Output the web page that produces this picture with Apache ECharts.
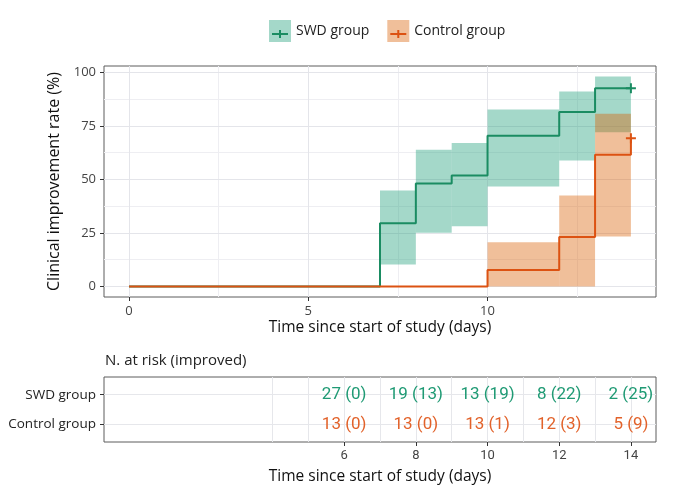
<!DOCTYPE html>
<html>
<head>
<meta charset="utf-8">
<script src="https://cdn.jsdelivr.net/npm/echarts@6/dist/echarts.min.js"></script>
<style>
  html, body { margin: 0; padding: 0; background: #fff; }
  #chart { width: 677px; height: 502px; }
</style>
</head>
<body>
<div id="chart"></div>
<script>
// 累积改善率曲线（阶梯）以及置信区间
var swdTime = [0, 7, 8, 9, 10, 12, 13, 14];
var swdRate = [0, 29.6, 48.1, 51.9, 70.4, 81.5, 92.6, 92.6];
var swdLower = [0, 10.3, 25.1, 28.2, 46.7, 58.9, 72.1, 72.1];
var swdUpper = [0, 44.9, 63.9, 67.0, 82.7, 91.1, 98.1, 98.1];

var ctrlTime = [0, 10, 12, 13, 14];
var ctrlRate = [0, 7.7, 23.1, 61.5, 69.2];
var ctrlLower = [0, 0, 0, 23.4, 23.4];
var ctrlUpper = [0, 20.7, 42.5, 80.7, 80.7];

// 风险表
var riskTime = [6, 8, 10, 12, 14];
var swdAtRisk = [27, 19, 13, 8, 2];
var swdImproved = [0, 13, 19, 22, 25];
var ctrlAtRisk = [13, 13, 13, 12, 5];
var ctrlImproved = [0, 0, 1, 3, 9];
var riskGroups = ["Control group", "SWD group"]; // 行号 1, 2

// 刻度
var xTicks = [0, 5, 10];
var xMinor = [2.5, 7.5, 12.5];
var yTicks = [0, 25, 50, 75, 100];
var yMinor = [12.5, 37.5, 62.5, 87.5];
var riskTicks = [6, 8, 10, 12, 14];
var riskGridX = [4, 5, 6, 7, 8, 9, 10, 11, 12, 13, 14];

var names = ["SWD group", "Control group"];
var lineColor = ["#1a8c62", "#dc5212"];
var bandColor = ["rgba(27,158,119,0.4)", "rgba(217,95,2,0.4)"];
var textColor = ["#1f9a74", "#e2622a"];
var font = "'Open Sans', 'Noto Sans', sans-serif";
var plusIcon = "path://M0,3L16,3L16,5L0,5Z M7,0L9,0L9,8L7,8Z";

function steps(t, v) {
  return t.map(function (x, i) {
    var item = { value: [x, v[i]] };
    if (i === t.length - 1) {
      item.symbol = "path://M0,4L10,4L10,6L0,6Z M4,0L6,0L6,10L4,10Z";
      item.symbolSize = 10;
    }
    return item;
  });
}

function bands(t, lo, hi) {
  var out = [];
  for (var i = 0; i < t.length - 1; i++) {
    if (hi[i] > lo[i]) out.push([t[i], t[i + 1], lo[i], hi[i]]);
  }
  return out;
}

function bandSeries(t, lo, hi, color) {
  return {
    type: "custom",
    xAxisIndex: 0,
    yAxisIndex: 0,
    z: 1,
    silent: true,
    encode: { x: [0, 1], y: [2, 3] },
    data: bands(t, lo, hi),
    renderItem: function (params, api) {
      var p0 = api.coord([api.value(0), api.value(3)]);
      var p1 = api.coord([api.value(1), api.value(2)]);
      return {
        type: "rect",
        shape: { x: p0[0], y: p0[1], width: p1[0] - p0[0], height: p1[1] - p0[1] },
        style: { fill: color }
      };
    }
  };
}

// 网格线用 markLine 画，放在最底层
function gridLines(xs, ys, xi, color) {
  var data = [];
  xs.forEach(function (v) { data.push({ xAxis: v }); });
  ys.forEach(function (v) { data.push({ yAxis: v }); });
  return {
    type: "line",
    xAxisIndex: xi,
    yAxisIndex: xi,
    z: 0,
    silent: true,
    symbol: "none",
    lineStyle: { width: 0 },
    data: [],
    markLine: {
      z: 0,
      silent: true,
      animation: false,
      symbol: ["none", "none"],
      label: { show: false },
      lineStyle: { type: "solid", color: color, width: 1 },
      data: data
    }
  };
}

function riskRows() {
  var out = [];
  riskTime.forEach(function (t, i) {
    out.push([t, 2, swdAtRisk[i], swdImproved[i], 0]);
    out.push([t, 1, ctrlAtRisk[i], ctrlImproved[i], 1]);
  });
  return out;
}

var axisTickStyle = { show: true, length: 4, lineStyle: { color: "#333", width: 1 } };
var noLine = { show: false, onZero: false };

var option = {
  animation: false,
  backgroundColor: "#fff",
  title: {
    text: "N. at risk (improved)",
    left: 105,
    top: 353,
    padding: 0,
    textStyle: { fontFamily: font, fontSize: 15, fontWeight: "normal", color: "#222" }
  },
  legend: [
    {
      left: 269,
      top: 20,
      padding: 0,
      itemWidth: 22,
      itemHeight: 22,
      itemGap: 18,
      icon: "rect",
      selectedMode: false,
      textStyle: { fontFamily: font, fontSize: 14, color: "#222" },
      data: [
        { name: names[0], itemStyle: { color: bandColor[0] } },
        { name: names[1], itemStyle: { color: bandColor[1] } }
      ]
    },
    {
      left: 272,
      top: 27,
      padding: 0,
      itemWidth: 16,
      itemHeight: 8,
      itemGap: 24,
      icon: plusIcon,
      selectedMode: false,
      textStyle: { fontFamily: font, fontSize: 14, color: "rgba(0,0,0,0)" },
      data: [
        { name: names[0], itemStyle: { color: lineColor[0] } },
        { name: names[1], itemStyle: { color: lineColor[1] } }
      ]
    }
  ],
  grid: [
    { left: 104, right: 21, top: 66, height: 231, show: true, borderColor: "#5c5c5c", borderWidth: 1, backgroundColor: "#fff" },
    { left: 104, right: 21, top: 377, height: 65, show: true, borderColor: "#5c5c5c", borderWidth: 1, backgroundColor: "#fff" }
  ],
  xAxis: [
    {
      type: "value",
      gridIndex: 0,
      min: -0.7,
      max: 14.7,
      axisLine: noLine,
      splitLine: { show: false },
      axisTick: Object.assign({ customValues: xTicks }, axisTickStyle),
      axisLabel: { customValues: xTicks, margin: 8, fontFamily: font, fontSize: 13, color: "#444" },
      name: "Time since start of study (days)",
      nameLocation: "middle",
      nameGap: 23,
      nameTextStyle: { fontFamily: font, fontSize: 15.5, color: "#111" }
    },
    {
      type: "value",
      gridIndex: 1,
      min: -0.7,
      max: 14.7,
      axisLine: noLine,
      splitLine: { show: false },
      axisTick: Object.assign({ customValues: riskTicks }, axisTickStyle),
      axisLabel: { customValues: riskTicks, margin: 7, fontFamily: "Roboto, sans-serif", fontSize: 13, color: "#444" },
      name: "Time since start of study (days)",
      nameLocation: "middle",
      nameGap: 27,
      nameTextStyle: { fontFamily: font, fontSize: 15.5, color: "#111" }
    }
  ],
  yAxis: [
    {
      type: "value",
      gridIndex: 0,
      min: -4.9,
      max: 103,
      axisLine: noLine,
      splitLine: { show: false },
      axisTick: Object.assign({ customValues: yTicks }, axisTickStyle),
      axisLabel: { customValues: yTicks, margin: 8, fontFamily: font, fontSize: 13, color: "#444" },
      name: "Clinical improvement rate (%)",
      nameLocation: "middle",
      nameGap: 38,
      nameTextStyle: { fontFamily: font, fontSize: 16, color: "#111" }
    },
    {
      type: "value",
      gridIndex: 1,
      min: 0.4,
      max: 2.6,
      axisLine: noLine,
      splitLine: { show: false },
      axisTick: Object.assign({ customValues: [1, 2] }, axisTickStyle),
      axisLabel: {
        customValues: [1, 2],
        margin: 8,
        fontFamily: font,
        fontSize: 13.5,
        color: "#222",
        formatter: function (v) { return riskGroups[Math.round(v) - 1]; }
      }
    }
  ],
  series: [
    // 网格线
    gridLines(xMinor, yMinor, 0, "#eeeef2"),
    gridLines(xTicks, yTicks, 0, "#e4e5ea"),
    gridLines(riskGridX, [1, 2], 1, "#e6e7eb"),
    // 置信区间
    bandSeries(swdTime, swdLower, swdUpper, bandColor[0]),
    bandSeries(ctrlTime, ctrlLower, ctrlUpper, bandColor[1]),
    // 阶梯线
    {
      name: names[0],
      type: "line",
      xAxisIndex: 0,
      yAxisIndex: 0,
      step: "end",
      z: 3,
      symbol: "none",
      itemStyle: { color: lineColor[0] },
      lineStyle: { color: lineColor[0], width: 2 },
      data: steps(swdTime, swdRate)
    },
    {
      name: names[1],
      type: "line",
      xAxisIndex: 0,
      yAxisIndex: 0,
      step: "end",
      z: 4,
      symbol: "none",
      itemStyle: { color: lineColor[1] },
      lineStyle: { color: lineColor[1], width: 2 },
      data: steps(ctrlTime, ctrlRate)
    },
    // 风险表文字
    {
      type: "custom",
      xAxisIndex: 1,
      yAxisIndex: 1,
      z: 3,
      silent: true,
      encode: { x: 0, y: 1 },
      data: riskRows(),
      renderItem: function (params, api) {
        var p = api.coord([api.value(0), api.value(1)]);
        return {
          type: "text",
          x: p[0],
          y: p[1],
          style: {
            text: api.value(2) + " (" + api.value(3) + ")",
            fill: textColor[api.value(4)],
            font: "17px Roboto, sans-serif",
            align: "center",
            verticalAlign: "middle"
          }
        };
      }
    }
  ]
};

var myChart = echarts.init(document.getElementById("chart"));
myChart.setOption(option);
</script>
</body>
</html>
